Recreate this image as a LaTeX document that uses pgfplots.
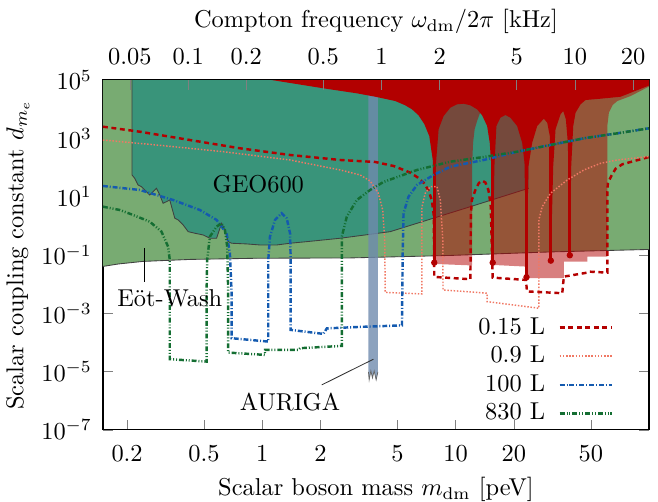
\documentclass[border=0pt]{standalone}
\usepackage{pgfplots}
\pgfplotsset{compat=1.18}
\definecolor{ewgreen}{RGB}{120,171,114}
\definecolor{geoteal}{RGB}{57,148,122}
\definecolor{bawred}{RGB}{178,0,0}
\definecolor{aurblue}{RGB}{111,139,174}
\definecolor{cA}{RGB}{180,0,0}
\definecolor{cB}{RGB}{240,120,100}
\definecolor{cC}{RGB}{20,90,175}
\definecolor{cD}{RGB}{20,110,50}
\begin{document}
\begin{tikzpicture}
\path[use as bounding box] (-42.2pt,-29.5pt) rectangle (227.5pt,176.2pt);
\begin{axis}[
  width=223.8pt, height=143.4pt, scale only axis,
  xmode=log, ymode=log, xmin=0.15, xmax=100, ymin=1e-7, ymax=1e5,
  xtick={0.2,0.5,1,2,5,10,20,50},
  xticklabels={$0.2$,$0.5$,$1$,$2$,$5$,$10$,$20$,$50$},
  xtick pos=left,
  ytick={1e-7,1e-5,1e-3,1e-1,1e1,1e3,1e5},
  xminorticks=false, yminorticks=false,
  tick align=inside, major tick length=4pt,
  xticklabel style={yshift=-3pt},
  yticklabel style={xshift=-1pt},
  xlabel={Scalar boson mass $m_{\mathrm{dm}}$ [peV]},
  ylabel={Scalar coupling constant $d_{m_e}$},
  xlabel style={at={(axis description cs:0.5,-0.188)}, anchor=base},
  ylabel style={at={(axis description cs:-0.156,0.5)}, anchor=center},
  axis line style={line width=0.5pt},
  legend cell align=right,
  legend plot pos=right,
  legend image code/.code={\draw[#1] (0cm,0cm) -- (0.75cm,0cm);},
  legend style={draw=none, fill=none, at={(0.935,0.33)}, anchor=north east,
    inner sep=0pt, nodes={inner sep=1pt}, row sep=1.4pt,
    /tikz/every odd column/.append style={column sep=4.5pt}},
]
% Eot-Wash
\addplot[fill=ewgreen, draw=none, forget plot] coordinates {
(0.15,1e5)(0.15,0.0404)(0.18,0.049)(0.241,0.060)(0.422,0.0702)(0.939,0.0771)(2.85,0.079)(9.39,0.0962)(30.95,0.127)(100,0.1545)(100,1e5)} -- cycle;
\addplot[black!75, line width=0.35pt, forget plot] coordinates {
(0.15,0.0404)(0.18,0.049)(0.241,0.060)(0.422,0.0702)(0.939,0.0771)(2.85,0.079)(9.39,0.0962)(30.95,0.127)(100,0.1545)};
% GEO600
\addplot[fill=geoteal, draw=none, forget plot] coordinates {
(0.212,1e5)(0.212,55.4)(0.2189,42.7)(0.2278,25.1)(0.2372,22.0)(0.2518,14.8)(0.2619,11.4)(0.2723,14.8)(0.2837,19.4)(0.2951,11.4)(0.3069,5.93)(0.3197,6.73)(0.3324,7.69)(0.3433,3.49)(0.3529,1.82)(0.3671,1.59)(0.3898,1.07)(0.4137,0.630)(0.4479,0.556)(0.4946,0.485)(0.5358,0.374)(0.5803,0.374)(0.6162,1.22)(0.6408,0.721)(0.6666,0.286)(0.6942,0.252)(0.8301,0.239)(0.9730,0.220)(1.188,0.220)(1.392,0.252)(1.698,0.286)(2.527,0.374)(4.589,0.630)(11.92,4.53)(23.88,19.4)(23.88,1e5)} -- cycle;
\addplot[black!75, line width=0.35pt, forget plot] coordinates {
(0.212,1e5)(0.212,55.4)(0.2189,42.7)(0.2278,25.1)(0.2372,22.0)(0.2518,14.8)(0.2619,11.4)(0.2723,14.8)(0.2837,19.4)(0.2951,11.4)(0.3069,5.93)(0.3197,6.73)(0.3324,7.69)(0.3433,3.49)(0.3529,1.82)(0.3671,1.59)(0.3898,1.07)(0.4137,0.630)(0.4479,0.556)(0.4946,0.485)(0.5358,0.374)(0.5803,0.374)(0.6162,1.22)(0.6408,0.721)(0.6666,0.286)(0.6942,0.252)(0.8301,0.239)(0.9730,0.220)(1.188,0.220)(1.392,0.252)(1.698,0.286)(2.527,0.374)(4.589,0.630)(11.92,4.53)(23.88,19.4)};
% AURIGA
\addplot[fill=aurblue, fill opacity=0.8, draw=none, forget plot] coordinates {
(3.541,1e5)(3.541,9.77e-6)(3.571,5.19e-6)(3.645,1.056e-5)(3.715,6.08e-6)(3.791,1.056e-5)(3.882,5.19e-6)(3.963,9.77e-6)(3.963,1e5)} -- cycle;
\addplot[black!60, line width=0.3pt, forget plot] coordinates {
(3.541,9.77e-6)(3.571,5.19e-6)(3.645,1.056e-5)(3.715,6.08e-6)(3.791,1.056e-5)(3.882,5.19e-6)(3.963,9.77e-6)};
% semi-transparent red
\addplot[fill=bawred, fill opacity=0.5, draw=none, forget plot] coordinates {
(7.755,1e5)(7.755,0.0492)(12.16,0.0437)(12.16,112.7)(12.31,708.8)(12.54,2042)(12.91,3930)(13.43,7998)(13.92,3.06e4)(14.09,1e5)} -- cycle;
\addplot[fill=bawred, fill opacity=0.5, draw=none, forget plot] coordinates {
(15.55,1e5)(15.55,0.0455)(23.25,0.0398)(23.25,0.0159)(36.28,0.0159)(36.28,0.0590)(47.95,0.0590)(47.95,0.0876)(60.87,0.0876)(60.87,2649)(62.03,7568)(64.85,1.390e4)(68.60,1.905e4)(80.38,2.829e4)(100,5.98e4)(100,1e5)} -- cycle;
% opaque red
\addplot[fill=bawred, draw=none, forget plot] coordinates {
(1.119,1e5)(2.07,5.195e4)(3.084,3.50e4)(3.837,2.676e4)(4.871,1.905e4)(5.487,1.357e4)(5.944,9897)(6.409,6312)(6.884,3102)(7.305,1202)(7.618,181)(7.755,0.0545)(7.896,112.7)(8.164,2042)(8.665,5834)(9.387,1.123e4)(10.17,1.469e4)(11.00,1.540e4)(11.92,1.357e4)(12.91,9897)(13.71,6164)(14.55,2649)(15.01,708.8)(15.26,146)(15.55,0.0545)(15.87,112.7)(16.25,2649)(17.04,5100)(18.09,6312)(19.20,5100)(20.80,2649)(22.08,708.8)(22.70,146)(23.25,0.01722)(23.81,112.7)(24.88,708.8)(26.42,2649)(28.58,4713)(29.76,3437)(30.69,1202)(31.06,0.0638)(31.97,112.7)(32.86,2042)(34.87,6671)(36.02,8656)(37.16,4494)(38.05,708.8)(38.96,0.0978)(39.61,112.7)(40.57,2649)(41.70,7568)(44.27,1.469e4)(46.99,2.063e4)(56.20,2.285e4)(71.36,2.676e4)(100,6.48e4)(100,1e5)} -- cycle;
\addplot[bawred, line width=1.1pt, forget plot] coordinates {(7.755,0.0545)(7.755,500)};
\addplot[bawred, line width=1.1pt, forget plot] coordinates {(15.55,0.0545)(15.55,500)};
\addplot[bawred, line width=1.1pt, forget plot] coordinates {(23.25,0.01722)(23.25,500)};
\addplot[bawred, line width=1.1pt, forget plot] coordinates {(31.06,0.0638)(31.06,500)};
\addplot[bawred, line width=1.1pt, forget plot] coordinates {(38.96,0.0978)(38.96,500)};
\addplot[bawred, only marks, mark=*, mark size=1.1pt, forget plot] coordinates {
(7.755,0.0545)(15.55,0.0545)(23.25,0.01722)(31.06,0.0638)(38.96,0.0978)};
% projections
\addplot[cA, line width=1pt, dash pattern=on 2pt off 1.5pt] coordinates {
(0.15,2506)(0.2325,1689)(0.422,877)(0.7664,455.5)(1.392,268.5)(2.527,180.9)(3.837,154.5)(4.773,112.7)(5.277,86.8)(5.826,66.4)(6.310,47.3)(6.828,30.15)(7.220,16.94)(7.528,7.69)(7.709,2.355)(7.755,0.01764)(11.92,0.01471)(11.99,2.355)(12.13,7.69)(12.65,16.94)(13.19,29.4)(13.71,35.3)(14.25,30.6)(14.77,16.94)(15.18,5.19)(15.55,0.0167)(23.11,0.01392)(23.38,0.00562)(35.60,0.00487)(36.28,0.01806)(47.95,0.02477)(48.89,0.02680)(60.87,0.02477)(60.87,13.69)(61.31,30.15)(63.85,51.2)(67.22,91.0)(72.81,128.8)(80.38,154.5)(90.58,191.1)(100,229.2)};
\addlegendentry{$0.15$ L}
\addplot[cB, line width=0.6pt, dash pattern=on 0.6pt off 0.7pt] coordinates {
(0.15,877)(0.2837,591)(0.6281,348.3)(1.392,180.9)(2.527,82.2)(3.208,55.4)(3.614,34.5)(3.977,13.37)(4.196,3.494)(4.298,0.327)(4.324,0.00519)(6.697,0.00461)(6.697,4.43)(6.966,13.05)(7.393,22.0)(8.013,22.0)(8.333,7.69)(8.585,0.327)(8.605,0.00632)(14.55,0.00487)(14.55,0.00251)(26.92,0.00149)(26.92,1.587)(28.04,4.53)(30.95,13.05)(37.77,37.3)(46.05,82.2)(56.20,139.4)(68.60,180.9)(100,238.4)};
\addlegendentry{$0.9$ L}
\addplot[cC, line width=1pt, dash pattern=on 2pt off 0.8pt on 0.4pt off 0.8pt] coordinates {
(0.15,23.2)(0.2325,16.94)(0.3458,7.69)(0.4756,3.49)(0.5803,1.587)(0.6539,0.5554)(0.6803,0.1146)(0.6942,0.00487)(0.6942,1.396e-4)(1.074,1.067e-4)(1.074,0.0675)(1.096,0.425)(1.164,1.587)(1.260,2.693)(1.338,1.82)(1.392,0.5554)(1.403,0.0675)(1.403,2.69e-4)(2.070,1.961e-4)(2.157,3.03e-4)(3.208,3.41e-4)(5.277,3.84e-4)(5.327,0.1486)(5.378,2.693)(5.707,9.98)(6.310,25.1)(7.691,55.4)(9.387,106.6)(13.97,180.9)(20.80,348.3)(30.95,591)(46.05,1003)(68.60,1489)(100,2209)};
\addlegendentry{$100$ L}
\addplot[cD, line width=1pt, dash pattern=on 2pt off 0.8pt on 0.4pt off 0.8pt on 0.4pt off 0.8pt] coordinates {
(0.15,4.53)(0.1831,3.49)(0.2146,2.355)(0.2619,1.387)(0.3011,0.630)(0.3258,0.1929)(0.3324,0.0675)(0.3324,2.66e-5)(0.5151,2.203e-5)(0.5151,0.00487)(0.5188,0.0675)(0.5358,0.425)(0.5803,0.935)(0.6162,1.22)(0.6408,0.721)(0.6587,0.1929)(0.6666,0.00487)(0.6666,4.48e-5)(1.033,3.735e-5)(1.033,5.54e-5)(1.536,5.54e-5)(1.568,6.34e-5)(2.579,7.60e-5)(2.579,0.425)(2.737,2.059)(3.084,7.69)(3.614,16.94)(4.237,31.9)(6.310,82.2)(9.387,158.2)(13.97,229.2)(20.80,348.3)(30.95,591)(46.05,1003)(68.60,1489)(100,2209)};
\addlegendentry{$830$ L}
% labels
\node at (axis cs:0.9535,27.2) {GEO600};
\node at (axis cs:0.3324,3.28e-3) {E\"ot-Wash};
\draw[black, line width=0.4pt] (axis cs:0.2447,0.170) -- (axis cs:0.2447,0.01217);
\node at (axis cs:1.392,9.35e-7) {AURIGA};
\draw[black!80, line width=0.35pt] (axis cs:2.031,3.50e-6) -- (axis cs:3.759,2.66e-5);
\end{axis}
\begin{axis}[
  width=223.8pt, height=143.4pt, scale only axis,
  xmode=log, xmin=0.036270, xmax=24.180, ymin=0, ymax=1,
  ytick=\empty, xtick pos=right, xticklabel pos=right,
  xtick={0.05,0.1,0.2,0.5,1,2,5,10,20},
  xticklabels={$0.05$,$0.1$,$0.2$,$0.5$,$1$,$2$,$5$,$10$,$20$},
  xminorticks=false, tick align=inside, major tick length=4pt,
  xticklabel style={yshift=2.8pt},
  axis line style={draw=none},
  xlabel={Compton frequency $\omega_{\mathrm{dm}}/2\pi$ [kHz]},
  xlabel style={at={(axis description cs:0.5,1.149)}, anchor=base},
]
\end{axis}
\end{tikzpicture}
\end{document}
